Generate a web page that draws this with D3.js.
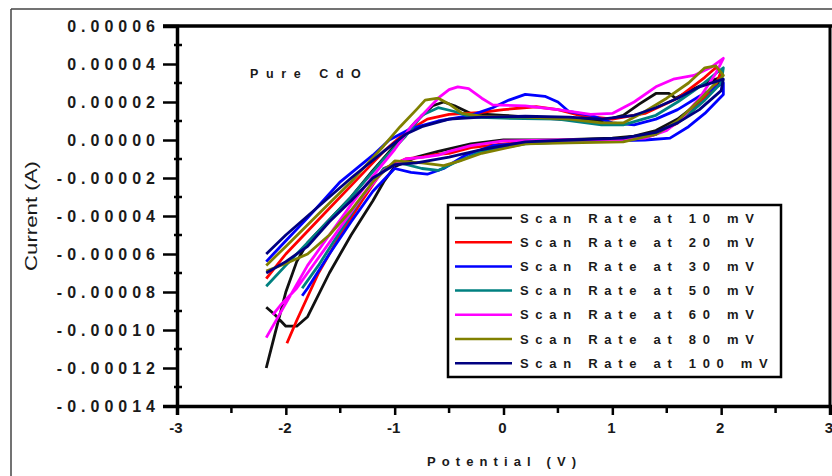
<!DOCTYPE html>
<html><head><meta charset="utf-8">
<script src="https://cdn.jsdelivr.net/npm/d3@7"></script>
<style>
html,body{margin:0;padding:0;background:#fff;}
svg{display:block;}
text{font-family:"Liberation Sans",Arial,sans-serif;}
</style></head>
<body>
<svg id="chart" width="832" height="476"></svg>
<script>
// ---- data (current in units of 1e-5 A, potential in V) ----
const seriesNames = ["Scan Rate at 10 mV","Scan Rate at 20 mV","Scan Rate at 30 mV","Scan Rate at 50 mV","Scan Rate at 60 mV","Scan Rate at 80 mV","Scan Rate at 100 mV"];
const seriesColors = ["#111111","#ff0000","#0000ff","#008080","#ff00ff","#808000","#000080"];
const xTicks = [-3,-2,-1,0,1,2,3];
const yTicks = [6,4,2,0,-2,-4,-6,-8,-10,-12,-14];

const scan10 = [[-2.18,-12.0],[-2.1,-10.2],[-2.0,-8.0],[-1.9,-6.4],[-1.8,-5.4],[-1.6,-4.2],[-1.4,-3.0],[-1.2,-1.6],[-1.0,-0.3],[-0.8,1.0],[-0.65,1.8],[-0.55,2.0],[-0.45,1.8],[-0.3,1.4],[0,1.3],[0.5,1.1],[0.9,1.0],[1.1,1.3],[1.25,1.9],[1.4,2.45],[1.52,2.45],[1.58,2.2],[1.75,2.7],[1.9,3.1],[2.0,3.3],
  [1.95,2.8],[1.8,2.0],[1.6,1.1],[1.4,0.5],[1.2,0.2],[1.0,0.1],[0.5,0.0],[0,0.0],[-0.3,-0.2],[-0.6,-0.6],[-0.8,-0.9],[-1.0,-1.4],[-1.1,-2.2],[-1.2,-3.2],[-1.4,-5.0],[-1.6,-7.0],[-1.8,-9.3],[-1.9,-9.8],[-2.0,-9.8],[-2.1,-9.2],[-2.18,-8.8]];
const scan20 = [[-2.18,-7.3],[-2.0,-6.0],[-1.7,-4.2],[-1.4,-2.4],[-1.1,-0.6],[-0.9,0.4],[-0.7,1.1],[-0.5,1.35],[-0.2,1.45],[0,1.6],[0.3,1.75],[0.5,1.6],[0.7,1.3],[1.0,1.1],[1.3,1.4],[1.6,2.2],[1.85,3.3],[1.95,3.8],[2.0,3.6],
  [1.95,2.9],[1.8,1.9],[1.6,0.9],[1.4,0.3],[1.2,0.05],[0.8,-0.05],[0.3,-0.1],[0,-0.2],[-0.3,-0.4],[-0.5,-0.7],[-0.6,-0.75],[-0.75,-0.9],[-0.9,-1.0],[-1.1,-1.5],[-1.3,-3.2],[-1.5,-5.0],[-1.7,-7.0],[-1.9,-9.5],[-1.99,-10.7]];
const scan30 = [[-2.18,-6.4],[-2.0,-5.3],[-1.8,-4.1],[-1.5,-2.2],[-1.2,-0.8],[-1.05,0],[-0.85,0.6],[-0.6,1.0],[-0.3,1.3],[-0.1,1.7],[0.05,2.1],[0.2,2.4],[0.38,2.3],[0.5,2.0],[0.6,1.5],[0.8,1.3],[1.0,0.9],[1.2,0.8],[1.4,1.1],[1.6,1.6],[1.8,2.3],[2.02,3.0],
  [2.02,2.4],[1.85,1.4],[1.7,0.7],[1.53,0.1],[1.3,0.0],[1.0,-0.05],[0.5,-0.1],[0.2,-0.15],[-0.1,-0.3],[-0.35,-0.8],[-0.55,-1.5],[-0.7,-1.8],[-0.85,-1.7],[-1.0,-1.5],[-1.2,-2.7],[-1.4,-4.3],[-1.6,-6.0],[-1.8,-7.8],[-1.85,-8.2]];
const scan50 = [[-2.18,-7.7],[-2.0,-6.6],[-1.7,-4.8],[-1.4,-3.0],[-1.1,-1.0],[-0.9,0.2],[-0.75,1.3],[-0.6,1.7],[-0.45,1.5],[-0.3,1.2],[0,1.15],[0.5,1.1],[0.9,0.8],[1.1,0.8],[1.4,1.3],[1.6,2.0],[1.8,2.8],[1.95,3.5],[2.02,3.8],
  [2.0,3.0],[1.85,2.1],[1.65,1.1],[1.4,0.3],[1.1,0.0],[0.6,-0.1],[0.2,-0.2],[-0.2,-0.6],[-0.45,-1.2],[-0.6,-1.6],[-0.75,-1.5],[-0.95,-1.2],[-1.1,-1.5],[-1.3,-3.0],[-1.5,-4.8],[-1.7,-6.6],[-1.85,-7.8]];
const scan60 = [[-2.18,-10.4],[-2.0,-8.6],[-1.8,-6.6],[-1.6,-5.0],[-1.4,-3.4],[-1.2,-1.9],[-1.0,-0.5],[-0.85,0.7],[-0.7,1.6],[-0.58,2.3],[-0.5,2.65],[-0.42,2.8],[-0.32,2.7],[-0.2,2.2],[-0.1,1.85],[0.2,1.8],[0.5,1.6],[0.8,1.35],[1.0,1.4],[1.2,2.0],[1.4,2.8],[1.56,3.2],[1.75,3.4],[1.9,3.8],[2.02,4.3],
  [1.95,3.5],[1.8,2.2],[1.65,1.2],[1.5,0.5],[1.3,0.1],[1.0,0.0],[0.5,0.0],[0,-0.05],[-0.3,-0.3],[-0.5,-0.6],[-0.6,-0.8],[-0.73,-0.9],[-0.9,-1.0],[-1.1,-1.6],[-1.3,-3.0],[-1.5,-4.6],[-1.7,-6.2],[-1.9,-7.8],[-2.05,-8.7],[-2.12,-9.2]];
const scan80 = [[-2.18,-6.6],[-2.0,-5.6],[-1.7,-3.9],[-1.4,-2.2],[-1.1,-0.3],[-0.95,0.7],[-0.8,1.6],[-0.72,2.1],[-0.6,2.2],[-0.5,1.9],[-0.38,1.4],[-0.2,1.25],[0.2,1.2],[0.6,1.1],[0.9,0.9],[1.1,0.9],[1.3,1.5],[1.5,2.2],[1.7,3.0],[1.85,3.8],[1.95,3.9],[2.02,3.4],
  [1.95,3.0],[1.8,2.1],[1.6,1.0],[1.4,0.3],[1.1,-0.1],[0.6,-0.15],[0.2,-0.2],[-0.2,-0.7],[-0.4,-1.1],[-0.55,-1.35],[-0.75,-1.2],[-1.0,-1.1],[-1.2,-2.2],[-1.4,-3.7],[-1.6,-5.0],[-1.8,-6.0],[-2.0,-6.5],[-2.18,-6.9]];
const scan100 = [[-2.18,-6.0],[-2.0,-5.0],[-1.7,-3.5],[-1.4,-2.0],[-1.1,-0.6],[-0.9,0.3],[-0.75,0.7],[-0.5,1.1],[-0.2,1.2],[0.2,1.25],[0.6,1.2],[0.9,1.1],[1.2,1.3],[1.4,1.7],[1.6,2.2],[1.8,2.8],[2.02,3.2],
  [2.0,2.6],[1.8,1.6],[1.6,0.9],[1.4,0.4],[1.1,0.1],[0.6,0.0],[0.2,-0.1],[-0.2,-0.5],[-0.5,-0.9],[-0.8,-1.2],[-1.0,-1.3],[-1.2,-2.0],[-1.4,-3.2],[-1.6,-4.3],[-1.8,-5.6],[-2.0,-6.4],[-2.18,-7.0]];
const seriesData = [scan10,scan20,scan30,scan50,scan60,scan80,scan100];

// ---- layout ----
const svg = d3.select("#chart");
const x = d3.scaleLinear().domain([-3,3]).range([177,830]);
const y = d3.scaleLinear().domain([-14,6]).range([406,26]);

// outer frame
svg.append("line").attr("x1",11).attr("x2",11).attr("y1",9).attr("y2",476).attr("stroke","#444").attr("stroke-width",1.5);
svg.append("line").attr("x1",11).attr("x2",832).attr("y1",9).attr("y2",9).attr("stroke","#444").attr("stroke-width",1.5);

// curves
const line = d3.line().x(d=>x(d[0])).y(d=>y(d[1]));
const plot = svg.append("g");
seriesData.forEach((s,i)=>{
  plot.append("path").attr("d",line(s)).attr("fill","none")
    .attr("stroke",seriesColors[i]).attr("stroke-width",2.8).attr("stroke-linejoin","round");
});

// axes
const yAxis = d3.axisLeft(y).tickValues(yTicks).tickSize(14).tickFormat("");
const gy = svg.append("g").attr("transform","translate(177,0)").call(yAxis);
const yMinor = d3.range(-13,6,2);
gy.selectAll(".minor").data(yMinor).enter().append("line")
  .attr("x1",-3).attr("x2",5).attr("y1",d=>y(d)).attr("y2",d=>y(d)).attr("stroke","#000").attr("stroke-width",2.5);
const xAxis = d3.axisBottom(x).tickValues(xTicks).tickSize(9).tickFormat("");
const gx = svg.append("g").attr("transform","translate(0,406)").call(xAxis);
gx.selectAll(".minor").data(d3.range(-2.5,3,1)).enter().append("line")
  .attr("x1",d=>x(d)).attr("x2",d=>x(d)).attr("y1",0).attr("y2",7).attr("stroke","#000").attr("stroke-width",2.5);
[gx,gy].forEach(g=>{
  g.select(".domain").attr("stroke","#000").attr("stroke-width",3.5);
  g.selectAll(".tick line").attr("stroke","#000").attr("stroke-width",2.5);
});
// top & right border
svg.append("line").attr("x1",163).attr("x2",832).attr("y1",26).attr("y2",26).attr("stroke","#000").attr("stroke-width",3.5);
svg.append("line").attr("x1",830).attr("x2",830).attr("y1",26).attr("y2",406).attr("stroke","#000").attr("stroke-width",3);

// tick labels
svg.append("g").selectAll("text").data(yTicks).enter().append("text")
  .attr("x",160).attr("y",d=>y(d)).attr("dy","0.36em").attr("text-anchor","end")
  .attr("font-size",16).attr("font-weight","bold").attr("letter-spacing",5).attr("fill","#1a1a1a")
  .text(d=> (d<0?"-":"") + (Math.abs(d)*1e-5).toFixed(5));
svg.append("g").selectAll("text").data(xTicks).enter().append("text")
  .attr("x",d=>x(d)-1).attr("y",433).attr("text-anchor","middle")
  .attr("font-size",15).attr("font-weight","bold").attr("fill","#1a1a1a")
  .text(d=>d);

// axis titles
svg.append("text").attr("x",427).attr("y",466).attr("font-size",13).attr("font-weight","bold")
  .attr("letter-spacing",6.1).attr("fill","#1a1a1a").text("Potential (V)");
svg.append("text").attr("transform","translate(37,216) rotate(-90)").attr("text-anchor","middle")
  .attr("font-size",17).attr("textLength",110).attr("lengthAdjust","spacingAndGlyphs").attr("fill","#1a1a1a").text("Current (A)");
// annotation
svg.append("text").attr("x",250).attr("y",78).attr("font-size",12.5).attr("font-weight","bold")
  .attr("letter-spacing",7.6).attr("fill","#1a1a1a").text("Pure CdO");

// legend
const lg = svg.append("g");
lg.append("rect").attr("x",448).attr("y",205).attr("width",333).attr("height",172)
  .attr("fill","#fff").attr("stroke","#000").attr("stroke-width",2.5);
seriesNames.forEach((n,i)=>{
  const yy = 218 + i*24.2;
  lg.append("line").attr("x1",455).attr("x2",512).attr("y1",yy).attr("y2",yy)
    .attr("stroke",seriesColors[i]).attr("stroke-width",2.5);
  lg.append("text").attr("x",520).attr("y",yy+4.5).attr("font-size",13).attr("font-weight","bold")
    .attr("letter-spacing",6.7).attr("fill","#1a1a1a").text(n);
});
</script>
</body></html>
